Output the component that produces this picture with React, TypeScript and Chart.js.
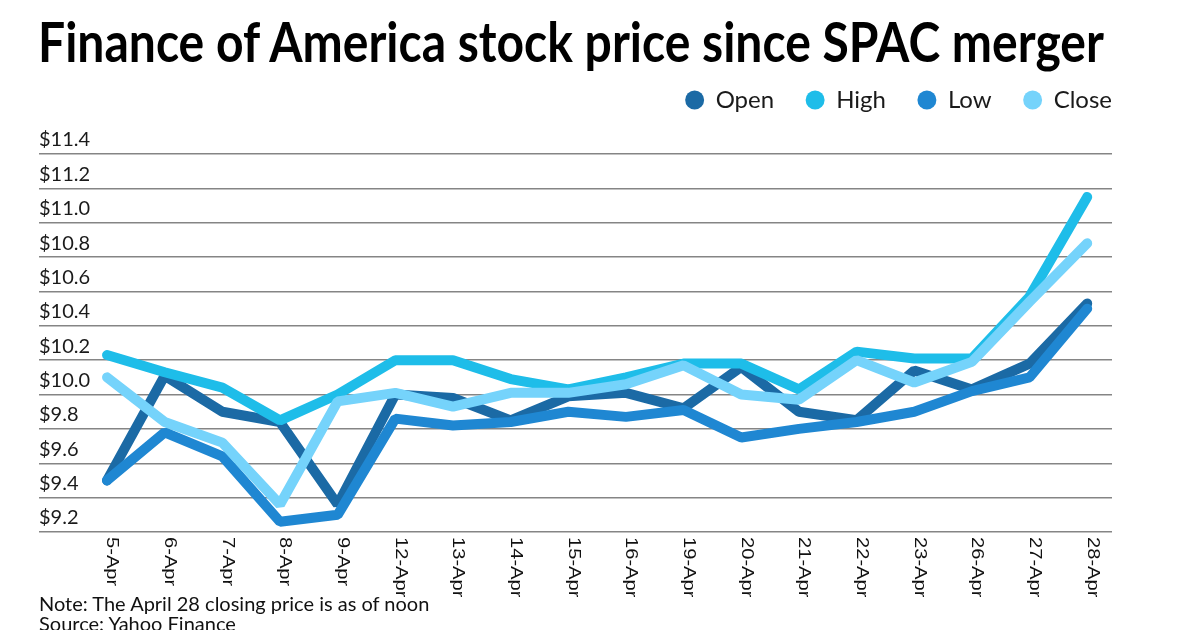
import React, { useEffect, useRef } from 'react';
import { Chart, registerables } from 'chart.js';

Chart.register(...registerables);

const TITLE = 'Finance of America stock price since SPAC merger';
const NOTE = 'Note: The April 28 closing price is as of noon';
const SOURCE = 'Source: Yahoo Finance';

const dates = ['5-Apr', '6-Apr', '7-Apr', '8-Apr', '9-Apr', '12-Apr', '13-Apr', '14-Apr', '15-Apr', '16-Apr', '19-Apr', '20-Apr', '21-Apr', '22-Apr', '23-Apr', '26-Apr', '27-Apr', '28-Apr'];

const openValues = [9.5, 10.11, 9.9, 9.84, 9.36, 10.0, 9.98, 9.85, 9.99, 10.01, 9.92, 10.16, 9.9, 9.85, 10.14, 10.03, 10.18, 10.53];
const highValues = [10.23, 10.13, 10.04, 9.85, 10.0, 10.2, 10.2, 10.09, 10.03, 10.1, 10.18, 10.18, 10.03, 10.25, 10.21, 10.21, 10.57, 11.15];
const lowValues = [9.5, 9.78, 9.64, 9.26, 9.3, 9.86, 9.82, 9.84, 9.9, 9.87, 9.91, 9.75, 9.8, 9.84, 9.9, 10.02, 10.1, 10.5];
const closeValues = [10.1, 9.84, 9.72, 9.36, 9.96, 10.01, 9.93, 10.01, 10.01, 10.06, 10.17, 10.0, 9.97, 10.2, 10.07, 10.19, 10.54, 10.88];

const seriesNames = ['Open', 'High', 'Low', 'Close'];
const seriesValues = [openValues, highValues, lowValues, closeValues];
const seriesColors = ['#1b6aa5', '#1ebde9', '#1f87d2', '#75d3fb'];

const Y_MIN = 9.2;
const Y_MAX = 11.4;
const Y_STEP = 0.2;

const TITLE_WIDTH = 1066;
const LEGEND_EXTRA = 32;

const legendSpacer = {
  id: 'legendSpacer',
  beforeLayout(chart: any) {
    const lg = chart.legend;
    if (lg && !lg._spaced) {
      const orig = lg.fit.bind(lg);
      lg.fit = function () {
        orig();
        this.height += LEGEND_EXTRA;
      };
      lg._spaced = true;
    }
  },
};

const xLabelPlugin = {
  id: 'xLabels',
  afterDraw(chart: any) {
    const sx = chart.scales.x;
    const ctx = chart.ctx;
    const top = chart.chartArea.bottom + 5;
    ctx.save();
    ctx.fillStyle = '#111';
    ctx.font = '16.5px "Liberation Sans", Arial, sans-serif';
    ctx.textBaseline = 'middle';
    ctx.textAlign = 'left';
    dates.forEach((d, i) => {
      const x = sx.getPixelForValue(i) + 5;
      ctx.save();
      ctx.translate(x, top);
      ctx.rotate(Math.PI / 2);
      ctx.scale(1.22, 1);
      ctx.fillText(d, 0, 0);
      ctx.restore();
    });
    ctx.restore();
  },
};

export default function App() {
  const canvasRef = useRef<HTMLCanvasElement>(null);
  const titleRef = useRef<HTMLDivElement>(null);

  useEffect(() => {
    const el = titleRef.current;
    if (el) {
      const w = el.offsetWidth;
      if (w > 0) el.style.transform = `scaleX(${TITLE_WIDTH / w})`;
    }
    if (!canvasRef.current) return;
    Chart.defaults.font.family = 'Lato, "Noto Sans", sans-serif';
    const chart = new Chart(canvasRef.current, {
      type: 'line',
      data: {
        datasets: seriesNames.map((name, k) => ({
          label: name,
          data: seriesValues[k].map((v, i) => ({ x: i, y: v })),
          borderColor: seriesColors[k],
          backgroundColor: seriesColors[k],
          borderWidth: 10,
          pointRadius: 0,
          pointHoverRadius: 0,
          borderCapStyle: 'round',
          borderJoinStyle: 'bevel',
          tension: 0,
          order: 4 - k,
          xAxisID: 'x',
          yAxisID: 'y',
        })),
      },
      options: {
        responsive: false,
        animation: false,
        devicePixelRatio: 1,
        layout: { padding: { top: 56, left: 39, right: 56, bottom: 98 } },
        plugins: {
          tooltip: { enabled: false },
          title: { display: false },
          legend: {
            display: true,
            position: 'top',
            align: 'end',
            labels: {
              font: { family: 'Lato', size: 24 },
              color: '#1a1a1a',
              usePointStyle: true,
              pointStyle: 'circle',
              boxWidth: 18,
              boxHeight: 13.4,
              padding: 32,
              sort: (a: any, b: any) => a.datasetIndex - b.datasetIndex,
              generateLabels: (c: any) =>
                (Chart.defaults.plugins.legend.labels.generateLabels as any)(c).map((it: any) => ({
                  ...it,
                  lineWidth: 0,
                  fillStyle: it.strokeStyle,
                  pointStyle: 'circle',
                })),
            },
          },
        },
        scales: {
          x: {
            type: 'linear',
            display: false,
            min: -1.18,
            max: 17.43,
          },
          y: {
            type: 'linear',
            position: 'left',
            min: Y_MIN,
            max: Y_MAX,
            border: { display: false },
            grid: { color: '#858585', lineWidth: 1.5, drawTicks: false },
            ticks: {
              stepSize: Y_STEP,
              mirror: true,
              padding: 0,
              labelOffset: -14,
              autoSkip: false,
              color: '#1a1a1a',
              font: { family: 'Lato', size: 20 },
              callback: (v: any) => '$' + Number(v).toFixed(1),
            },
          },
          yR: {
            type: 'linear',
            position: 'right',
            display: true,
            border: { display: false },
            grid: { display: false },
            ticks: { display: false },
            afterFit: (s: any) => {
              s.width = 32;
            },
          },
        },
      },
      plugins: [legendSpacer, xLabelPlugin],
    } as any);
    return () => chart.destroy();
  }, []);

  return (
    <div style={{ position: 'absolute', left: 0, top: 0, width: 1200, height: 630, background: '#fff', overflow: 'hidden' }}>
      <canvas ref={canvasRef} width={1200} height={630} style={{ position: 'absolute', left: 0, top: 0, width: 1200, height: 630 }} />
      <div
        ref={titleRef}
        style={{
          position: 'absolute',
          left: 38,
          top: 13,
          display: 'inline-block',
          fontFamily: 'Lato, sans-serif',
          fontWeight: 700,
          fontSize: 56,
          lineHeight: '56px',
          whiteSpace: 'nowrap',
          transformOrigin: '0 0',
          color: '#000',
        }}
      >
        {TITLE}
      </div>
      <div
        style={{
          position: 'absolute',
          left: 39,
          top: 593,
          fontFamily: 'Lato, sans-serif',
          fontSize: 20,
          lineHeight: '20px',
          whiteSpace: 'nowrap',
          color: '#111',
        }}
      >
        <div>{NOTE}</div>
        <div>{SOURCE}</div>
      </div>
    </div>
  );
}
